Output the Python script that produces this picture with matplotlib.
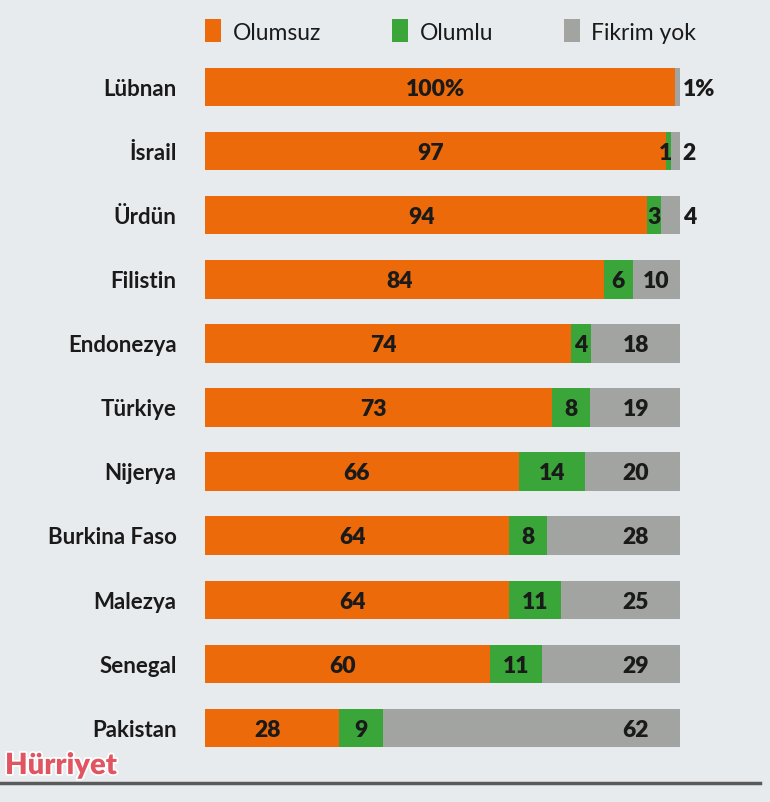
import matplotlib.pyplot as plt
import matplotlib.patheffects as pe
import numpy as np

countries = ['Lübnan', 'İsrail', 'Ürdün', 'Filistin', 'Endonezya', 'Türkiye',
             'Nijerya', 'Burkina Faso', 'Malezya', 'Senegal', 'Pakistan']
olumsuz = [100, 97, 94, 84, 74, 73, 66, 64, 64, 60, 28]
olumlu = [0, 1, 3, 6, 4, 8, 14, 8, 11, 11, 9]
fikrim_yok = [1, 2, 4, 10, 18, 19, 20, 28, 25, 29, 62]
olumsuz_labels = ['100%', '97', '94', '84', '74', '73', '66', '64', '64', '60', '28']
olumlu_labels = ['', '1', '3', '6', '4', '8', '14', '8', '11', '11', '9']
fikrim_labels = ['1%', '2', '4', '10', '18', '19', '20', '28', '25', '29', '62']
series_names = ['Olumsuz', 'Olumlu', 'Fikrim yok']

c_orange = '#ec6a0a'
c_green = '#3aa63a'
c_gray = '#a2a4a1'
bg = '#e8ebee'
txt = '#1a1a1a'

plt.rcParams['font.family'] = ['Lato', 'DejaVu Sans']

fig = plt.figure(figsize=(7.7, 8.03), dpi=100, facecolor=bg)
ax = fig.add_axes([205 / 770, 1 - 761 / 803, 475 / 770, 705 / 803])
ax.set_facecolor(bg)

vals = np.array([olumsuz, olumlu, fikrim_yok], dtype=float)
share = vals / vals.sum(axis=0) * 100
y = np.arange(len(countries))

left = np.zeros(len(countries))
colors = [c_orange, c_green, c_gray]
for i in range(3):
    ax.barh(y, share[i], left=left, height=0.6, color=colors[i],
            label=series_names[i])
    left += share[i]

ax.set_xlim(0, 100)
ax.set_ylim(len(countries) - 0.5, -0.5)
ax.axis('off')

fs = 16.5
for k in range(len(countries)):
    o, g, f = share[:, k]
    # orange value
    ax.text(o / 2 - 1, k + 0.02, olumsuz_labels[k], ha='center', va='center',
            fontsize=fs, fontweight='heavy', color=txt)
    # green value
    if olumlu[k] > 0:
        if olumlu[k] < 2:
            ax.text(o + g + 0.3, k + 0.02, olumlu_labels[k], ha='right', va='center',
                    fontsize=fs, fontweight='heavy', color=txt)
        else:
            ax.text(o + g / 2, k + 0.02, olumlu_labels[k], ha='center', va='center',
                    fontsize=fs, fontweight='heavy', color=txt)
    # gray value
    if fikrim_yok[k] < 5:
        ax.text(100.6, k + 0.02, fikrim_labels[k], ha='left', va='center',
                fontsize=fs, fontweight='heavy', color=txt, clip_on=False)
    elif fikrim_yok[k] < 15:
        ax.text(o + g + f / 2, k + 0.02, fikrim_labels[k], ha='center', va='center',
                fontsize=fs, fontweight='heavy', color=txt)
    else:
        ax.text(90.7, k + 0.02, fikrim_labels[k], ha='center', va='center',
                fontsize=fs, fontweight='heavy', color=txt)
    # country name
    ax.text(-6, k + 0.02, countries[k], ha='right', va='center', fontsize=16,
            fontweight='bold', color=txt, clip_on=False)

leg = ax.legend(loc='center left', ncol=3, frameon=False, fontsize=16.5,
                handlelength=0.7, handleheight=1.15, handletextpad=0.5,
                columnspacing=3.1, labelcolor=txt, borderaxespad=0,
                borderpad=0)
leg.set_bbox_to_anchor((0.0, 1 + 24 / 705), transform=ax.transAxes)

# newspaper mark and bottom rule
fig.text(5 / 770, 1 - 767 / 803, 'Hürriyet', fontsize=21, fontweight='heavy',
         color='#e05561', ha='left', va='center',
         path_effects=[pe.withStroke(linewidth=2.5, foreground='white')])
fig.add_artist(plt.Line2D([0, 760 / 770], [1 - 784 / 803] * 2,
                          color='#5a5a5a', lw=2.5))

fig.savefig('out.png', dpi=100, facecolor=bg)
